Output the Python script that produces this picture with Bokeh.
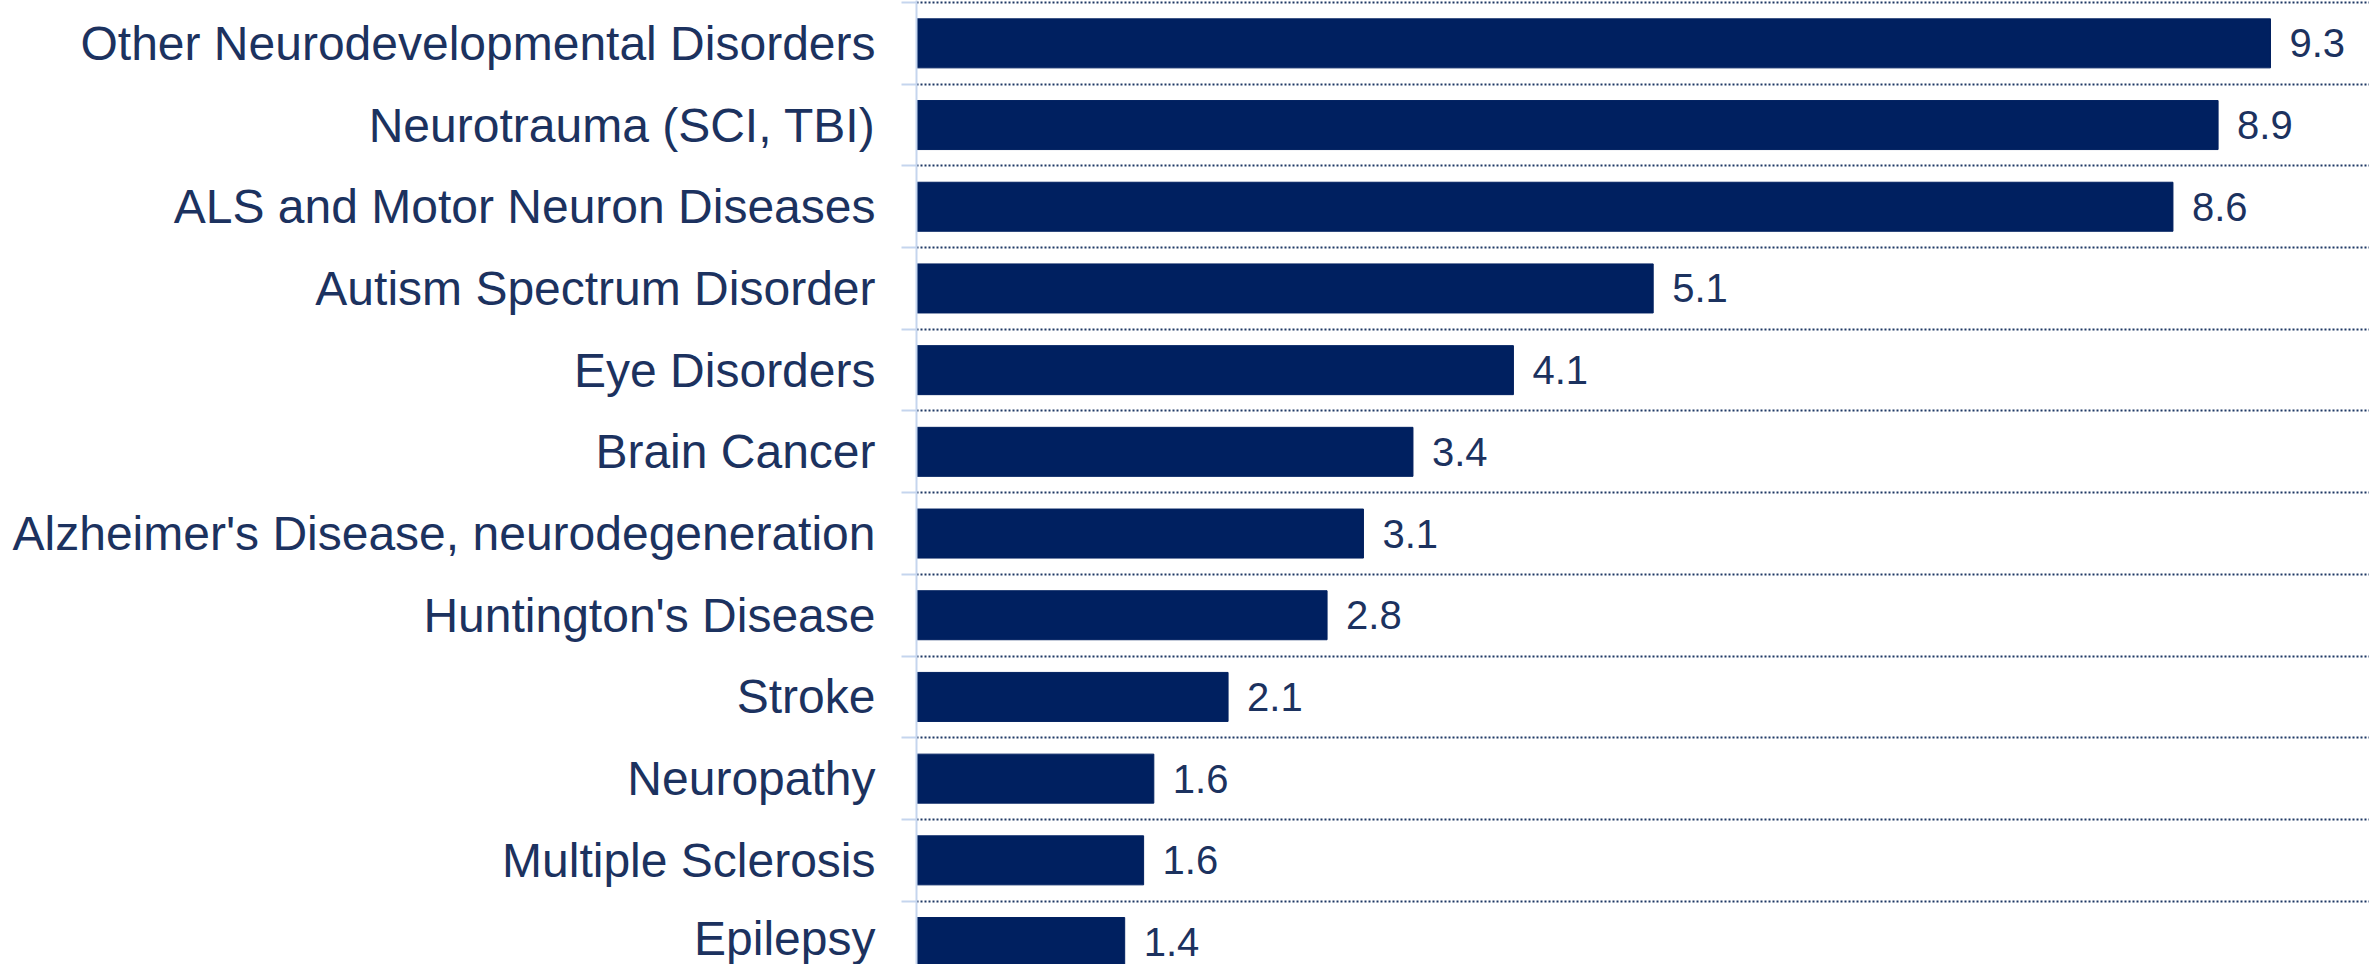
from bokeh.plotting import figure
from bokeh.models import Range1d, FixedTicker
from bokeh.core.properties import value
from bokeh.embed import file_html
from bokeh.resources import INLINE

categories = [
    "Other Neurodevelopmental Disorders",
    "Neurotrauma (SCI, TBI)",
    "ALS and Motor Neuron Diseases",
    "Autism Spectrum Disorder",
    "Eye Disorders",
    "Brain Cancer",
    "Alzheimer's Disease, neurodegeneration",
    "Huntington's Disease",
    "Stroke",
    "Neuropathy",
    "Multiple Sclerosis",
    "Epilepsy",
]
values = [9.3, 8.94, 8.63, 5.06, 4.1, 3.41, 3.07, 2.82, 2.14, 1.63, 1.56, 1.43]
labels = ["9.3", "8.9", "8.6", "5.1", "4.1", "3.4", "3.1", "2.8", "2.1", "1.6", "1.6", "1.4"]

idx = list(range(len(categories)))
boundaries = [i - 0.5 for i in range(len(categories) + 1)]

TEXT = "#1c325f"
BAR = "#002060"
FONT = "Liberation Sans"

p = figure(width=2369, height=964, output_backend="svg", toolbar_location=None,
           x_range=Range1d(0, 9.98), y_range=Range1d(11.275, -0.5245),
           min_border_left=916, min_border_right=0, min_border_top=0, min_border_bottom=0)
p.outline_line_color = None
p.background_fill_color = "white"

p.hbar(y=idx, right=values, left=0, height=0.6, fill_color=BAR, line_color=BAR)
p.text(x=values, y=idx, text=labels, x_offset=19, text_baseline="middle", text_align="left",
       text_font=value(FONT), text_font_size="40px", text_color=TEXT)

p.xaxis.visible = False
p.xgrid.visible = False

yax = p.yaxis[0]
yax.ticker = FixedTicker(ticks=idx, minor_ticks=boundaries)
yax.major_label_overrides = {i: c for i, c in zip(idx, categories)}
yax.major_label_text_font = FONT
yax.major_label_text_font_size = "48px"
yax.major_label_text_color = TEXT
yax.major_label_standoff = 26
yax.major_tick_line_color = None
yax.major_tick_out = 0
yax.major_tick_in = 0
yax.minor_tick_out = 15
yax.minor_tick_in = 0
yax.minor_tick_line_color = "#c5d5ee"
yax.minor_tick_line_width = 2
yax.axis_line_color = "#c5d5ee"
yax.axis_line_width = 2

p.ygrid.ticker = FixedTicker(ticks=boundaries)
p.ygrid.grid_line_color = "#1f3864"
p.ygrid.grid_line_dash = "2 2"
p.ygrid.grid_line_width = 2

open("out.html", "w").write(file_html(p, INLINE))
